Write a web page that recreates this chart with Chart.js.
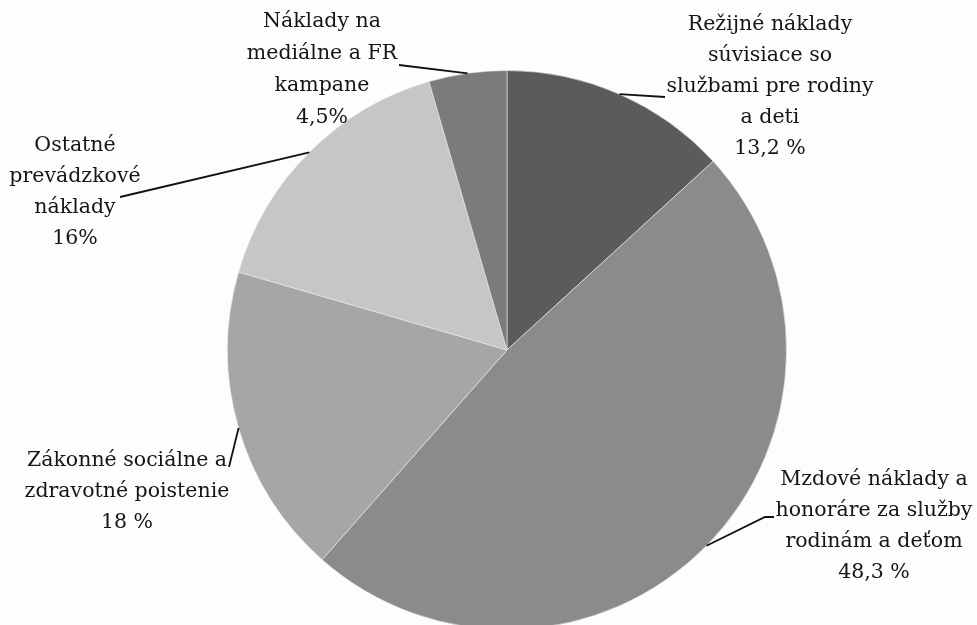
<!DOCTYPE html>
<html>
<head>
<meta charset="utf-8">
<script src="https://cdn.jsdelivr.net/npm/chart.js@4"></script>
<style>
  html, body { margin: 0; padding: 0; background: #fdfdfd; overflow: hidden; }
  #wrap { width: 977px; height: 640px; }
</style>
</head>
<body>
<div id="wrap"><canvas id="g_naklady"></canvas></div>
<script>
// data
var kategorie = [
    'Režijné náklady súvisiace so službami pre rodiny a deti',
    'Mzdové náklady a honoráre za služby rodinám a deťom',
    'Zákonné sociálne a zdravotné poistenie',
    'Ostatné prevádzkové náklady',
    'Náklady na mediálne a FR kampane'
];
var podiely = [13.2, 48.3, 18, 16, 4.5];
var popisky = [
    ['Režijné náklady', 'súvisiace so', 'službami pre rodiny', 'a deti', '13,2 %'],
    ['Mzdové náklady a', 'honoráre za služby', 'rodinám a deťom', '48,3 %'],
    ['Zákonné sociálne a', 'zdravotné poistenie', '18 %'],
    ['Ostatné', 'prevádzkové', 'náklady', '16%'],
    ['Náklady na', 'mediálne a FR', 'kampane', '4,5%']
];
var farby = ['#5b5b5b', '#8b8b8b', '#a6a6a6', '#c6c6c6', '#7b7b7b'];

// where each label block sits and where its leader line ends
var rozlozenie = [
    { x: 770, y: 25, lh: 31, ciara: [[665, 97]] },
    { x: 874, y: 480, lh: 31, ciara: [[765, 517], [774, 517]] },
    { x: 127, y: 461, lh: 31, ciara: [[229, 467]] },
    { x: 75,  y: 146, lh: 31, ciara: [[120, 197]] },
    { x: 322, y: 22, lh: 32, ciara: [[399, 65]] }
];

var popiskyPlugin = {
    id: 'popisky',
    afterDraw: function (chart) {
        var ctx = chart.ctx;
        var meta = chart.getDatasetMeta(0);
        ctx.save();
        for (let i = 0; i < meta.data.length; i++) {
            var arc = meta.data[i];
            var p = arc.getProps(['x', 'y', 'startAngle', 'endAngle', 'outerRadius'], true);
            var uhol = (p.startAngle + p.endAngle) / 2;
            var sx = p.x + Math.cos(uhol) * p.outerRadius;
            var sy = p.y + Math.sin(uhol) * p.outerRadius;
            var r = rozlozenie[i];

            ctx.strokeStyle = '#111';
            ctx.lineWidth = 1.8;
            ctx.beginPath();
            ctx.moveTo(sx, sy);
            for (let j = 0; j < r.ciara.length; j++) {
                ctx.lineTo(r.ciara[j][0], r.ciara[j][1]);
            }
            ctx.stroke();

            ctx.fillStyle = '#151515';
            ctx.font = '20.5px "DejaVu Serif"';
            ctx.textAlign = 'center';
            ctx.textBaseline = 'middle';
            for (let k = 0; k < popisky[i].length; k++) {
                ctx.fillText(popisky[i][k], r.x, r.y + k * r.lh);
            }
        }
        ctx.restore();
    }
};

new Chart(document.getElementById('g_naklady'), {
    type: 'pie',
    data: {
        labels: kategorie,
        datasets: [{
            data: podiely,
            backgroundColor: farby,
            borderColor: 'rgba(235,235,235,0.6)',
            borderWidth: 1
        }]
    },
    options: {
        responsive: true,
        maintainAspectRatio: false,
        animation: false,
        layout: { padding: { top: 70, bottom: 10, left: 227, right: 190 } },
        plugins: {
            legend: { display: false },
            tooltip: { enabled: false }
        }
    },
    plugins: [popiskyPlugin]
});
</script>
</body>
</html>
